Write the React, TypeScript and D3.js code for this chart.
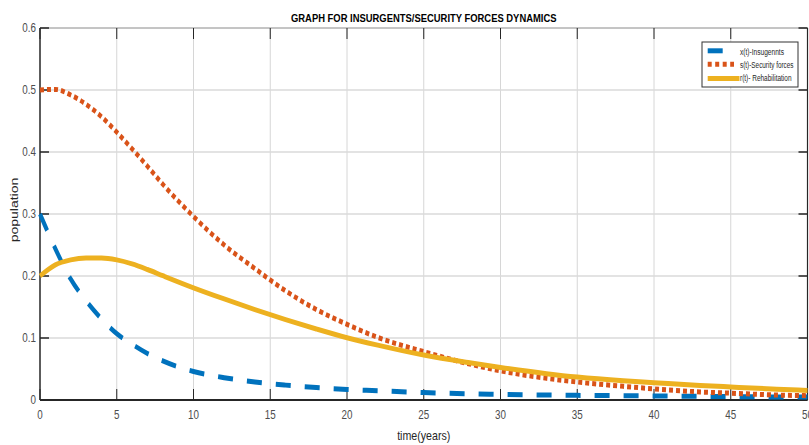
import React from "react";
import * as d3 from "d3";

const T = [0, 1, 2, 3, 4, 5, 6, 7, 8, 10, 12, 14, 16, 18, 20, 22, 25, 28, 30, 33, 35, 38, 40, 43, 45, 48, 50];
const X_INSURGENTS = [0.300, 0.244, 0.195, 0.160, 0.131, 0.107, 0.090, 0.075, 0.063, 0.046, 0.036, 0.029, 0.024, 0.020, 0.017, 0.015, 0.012, 0.010, 0.009, 0.008, 0.0075, 0.007, 0.0065, 0.006, 0.0055, 0.005, 0.005];
const S_SECURITY = [0.500, 0.501, 0.492, 0.477, 0.457, 0.432, 0.405, 0.377, 0.348, 0.296, 0.250, 0.212, 0.176, 0.146, 0.122, 0.101, 0.078, 0.058, 0.047, 0.035, 0.029, 0.022, 0.018, 0.013, 0.011, 0.008, 0.007];
const R_REHAB = [0.200, 0.218, 0.226, 0.229, 0.229, 0.226, 0.2195, 0.2105, 0.2005, 0.181, 0.1630, 0.1458, 0.1297, 0.1146, 0.1005, 0.0885, 0.0725, 0.0600, 0.0525, 0.0425, 0.0370, 0.0310, 0.0280, 0.0235, 0.0210, 0.0175, 0.0155];

const X_TICKS = [0, 5, 10, 15, 20, 25, 30, 35, 40, 45, 50];
const Y_TICKS = [0, 0.1, 0.2, 0.3, 0.4, 0.5, 0.6];
const SERIES_LABELS = ["x(t)-Insugennts", "s(t)-Security forces", "r(t)- Rehabilitation"];
const TITLE = "GRAPH FOR INSURGENTS/SECURITY FORCES DYNAMICS";
const X_LABEL = "time(years)";
const Y_LABEL = "population";

const W = 809, H = 445;
const L = 40, R = 807.5, TOP = 28, BOT = 400;
const SX = 0.8; // horizontal squash of the original figure
const FONT = "'Liberation Sans', Arial, Helvetica, sans-serif";
const TXT = "#262626";

export default function App() {
  const xs = d3.scaleLinear().domain([0, 50]).range([L, R]);
  const xw = d3.scaleLinear().domain([0, 50]).range([0, (R - L) / SX]);
  const ys = d3.scaleLinear().domain([0, 0.6]).range([BOT, TOP]);

  const mk = (vals: number[]) =>
    d3.line<number>()
      .x((_, i) => xw(T[i]))
      .y((v) => ys(v))
      .curve(d3.curveMonotoneX)(vals) || "";

  const lines = [
    { d: mk(X_INSURGENTS), color: "#0072BD", dash: "18.75,17.5", w: 5 },
    { d: mk(S_SECURITY), color: "#D95319", dash: "5,3.75", w: 5 },
    { d: mk(R_REHAB), color: "#EDB120", dash: undefined, w: 5 },
  ];

  const sq = (x: number, y: number, s = 0.82) => `translate(${x},${y}) scale(${s},1)`;
  const legendLens = [44, 53.5, 51.5];

  return (
    <svg width={W} height={H} style={{ position: "absolute", left: 0, top: 0, background: "#fff" }} fontFamily={FONT}>
      <rect x={0} y={0} width={W} height={H} fill="#fff" />
      {/* grid */}
      {X_TICKS.slice(1, -1).map((t) => (
        <line key={"gx" + t} x1={xs(t)} x2={xs(t)} y1={TOP} y2={BOT} stroke="#d6d6d6" strokeWidth={1} />
      ))}
      {Y_TICKS.slice(1, -1).map((t) => (
        <line key={"gy" + t} x1={L} x2={R} y1={ys(t)} y2={ys(t)} stroke="#dadada" strokeWidth={1.5} />
      ))}
      {/* box */}
      <line x1={L} x2={R} y1={TOP} y2={TOP} stroke="#8a8a8a" strokeWidth={1} />
      <line x1={R} x2={R} y1={TOP} y2={BOT} stroke="#262626" strokeWidth={1.2} />
      <line x1={L} x2={L} y1={TOP} y2={BOT} stroke="#262626" strokeWidth={1.5} />
      <line x1={L} x2={R} y1={BOT} y2={BOT} stroke="#262626" strokeWidth={2} />
      {/* ticks */}
      {X_TICKS.map((t) => (
        <g key={"tx" + t}>
          <line x1={xs(t)} x2={xs(t)} y1={BOT} y2={BOT - 11} stroke="#262626" strokeWidth={1} />
          <line x1={xs(t)} x2={xs(t)} y1={TOP} y2={TOP + 11} stroke="#262626" strokeWidth={1} />
          <text transform={sq(xs(t), 419)} textAnchor="middle" fontSize={12} fill="#4d4d4d">{t}</text>
        </g>
      ))}
      {Y_TICKS.map((t) => (
        <g key={"ty" + t}>
          <line x1={L} x2={L + 9} y1={ys(t)} y2={ys(t)} stroke="#262626" strokeWidth={1.5} />
          <line x1={R} x2={R - 9} y1={ys(t)} y2={ys(t)} stroke="#262626" strokeWidth={1.5} />
          <text transform={sq(36, ys(t) + 4.3)} textAnchor="end" fontSize={12} fill="#4d4d4d">{String(t)}</text>
        </g>
      ))}
      {/* series */}
      <g transform={`translate(${L},0) scale(${SX},1)`}>
        {lines.map((l, i) => (
          <path key={i} d={l.d} fill="none" stroke={l.color} strokeWidth={l.w} strokeDasharray={l.dash} strokeLinecap="butt" />
        ))}
      </g>
      {/* title and labels */}
      <text transform={sq((L + R) / 2, 21.7)} textAnchor="middle" fontSize={11.5} fontWeight="bold" fill="#000">{TITLE}</text>
      <text transform={sq((L + R) / 2, 440)} textAnchor="middle" fontSize={13} fill={TXT}>{X_LABEL}</text>
      <text transform={`translate(17.5,210) scale(0.82,1) rotate(-90)`} textAnchor="middle" fontSize={14} fill={TXT}>{Y_LABEL}</text>
      {/* legend */}
      <rect x={702} y={42} width={96} height={45} fill="#fff" stroke="#333" strokeWidth={1} />
      <line x1={707.7} x2={722.7} y1={50.8} y2={50.8} stroke="#0072BD" strokeWidth={5} />
      <line x1={707.7} x2={734} y1={64.2} y2={64.2} stroke="#D95319" strokeWidth={5} strokeDasharray="4,3.5" />
      <line x1={707.7} x2={739.5} y1={78.5} y2={78.5} stroke="#EDB120" strokeWidth={5} />
      {SERIES_LABELS.map((s, i) => (
        <text key={s} x={740} y={[54.5, 67.5, 81][i]} fontSize={8.5} fill={TXT} textLength={legendLens[i]} lengthAdjust="spacingAndGlyphs">{s}</text>
      ))}
    </svg>
  );
}
